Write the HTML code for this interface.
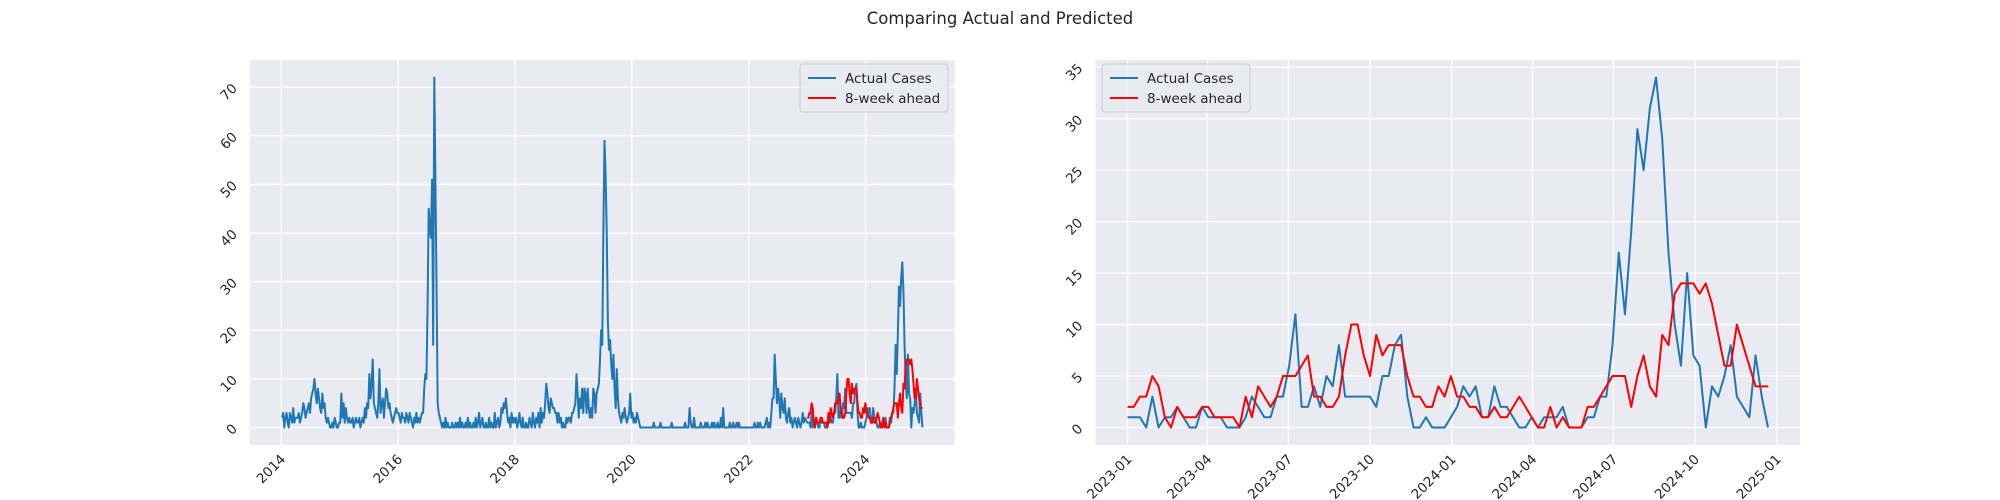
<!DOCTYPE html>
<html><head><meta charset="utf-8">
<style>
body{margin:0;background:#fff;}
svg{display:block;font-family:"DejaVu Sans","Liberation Sans",sans-serif;}
</style></head>
<body>
<svg id="fig" width="2000" height="500" viewBox="0 0 2000 500" xmlns="http://www.w3.org/2000/svg">
<text x="1000" y="24" text-anchor="middle" font-size="16.5" fill="#262626">Comparing Actual and Predicted</text>
</svg>
<script>
// ---- data ----
const historyStart = "2014-01-05";
const history2014 = [2,3,0,2,3,1,0,3,2,1,4,1,2,2,2,3,1,2,3,5,4,2,3,4,5,3,6,7,8,10,7,5,8,6,4,3,7,4,5,2,1,2,1,0,0,1,0,2,1,0,0,1];
const history2015 = [1,7,2,5,1,4,2,1,2,1,1,2,0,1,2,1,1,2,0,1,2,1,4,2,5,4,11,6,9,14,5,4,3,2,5,12,3,5,6,2,5,8,7,4,5,3,2,1,2,3,4,3];
const history2016 = [3,2,1,3,2,2,1,3,2,1,3,2,1,0,2,1,3,1,2,1,2,3,3,8,11,10,25,45,41,39,51,17,72,51,29,5,3,2,1,0,1,0,2,0,1,0,0,0,1,0,0,1];
const history2017 = [0,1,0,2,0,1,0,0,1,0,2,0,1,0,0,1,0,2,0,1,3,0,1,2,0,0,1,0,0,2,0,1,0,0,3,0,1,2,0,1,4,3,5,4,6,3,1,2,0,3,1,2];
const history2018 = [1,2,0,1,3,1,0,2,0,0,1,0,0,2,1,0,3,1,0,2,1,3,0,4,1,3,2,5,9,7,4,3,6,5,4,4,3,3,1,3,1,2,0,1,0,0,2,1,2,2,1,3];
const history2019 = [3,4,5,11,7,2,6,4,8,3,8,7,3,8,4,2,4,2,8,7,3,7,8,9,14,20,17,40,59,52,40,22,16,18,13,10,15,8,4,12,6,3,2,1,3,2,4,2,1,2,3,7];
const history2020 = [2,3,1,2,1,3,2,1,0,0,0,0,0,0,0,0,0,0,0,0,1,0,0,0,0,0,1,0,0,0,0,0,0,0,0,0,1,0,0,0,0,0,0,0,0,0,0,0,1,0,0,0];
const history2021 = [4,1,0,0,2,0,0,0,0,0,1,0,0,0,1,0,1,0,0,0,1,0,1,0,0,1,0,0,2,0,4,0,0,0,0,0,1,0,0,1,0,0,1,0,1,0,0,0,0,0,0,0];
const history2022 = [0,0,0,0,0,0,1,0,0,1,0,1,0,0,0,0,1,2,0,1,0,3,6,6,15,10,5,8,6,2,7,4,3,6,2,1,3,4,1,2,0,1,2,1,0,2,1,0,1,3,1,2];
const recentStart = "2023-01-01";
const actualRecent = [1,1,1,0,3,0,1,1,2,1, 0,0,2,1,1,1,0,0,0,1, 3,2,1,1,3,3,6,11,2,2, 4,2,5,4,8,3,3,3,3,3, 2,5,5,8,9,3,0,0,1,0, 0,0,1,2,4,3,4,1,1,4, 2,2,1,0,0,1,0,1,1,1, 2,0,0,0,1,1,3,3,8,17, 11,19,29,25,31,34,28,17,10,6, 15,7,6,0,4,3,5,8,3,2, 1,7,3,0];
const predicted8wk = [2,2,3,3,5,4,1,0,2,1, 1,1,2,2,1,1,1,1,0,3, 1,4,3,2,3,5,5,5,6,7, 3,3,2,2,3,7,10,10,7,5, 9,7,8,8,8,5,3,3,2,2, 4,3,5,3,3,2,2,1,1,2, 1,1,2,3,2,1,0,0,2,0, 1,0,0,0,2,2,3,4,5,5, 5,2,5,7,4,3,9,8,13,14, 14,14,13,14,12,9,6,6,10,8, 6,4,4,4];
const leftYTicks = [0,10,20,30,40,50,60,70];
const leftXTicks = ["2014","2016","2018","2020","2022","2024"];
const rightYTicks = [0,5,10,15,20,25,30,35];
const rightXTicks = ["2023-01","2023-04","2023-07","2023-10","2024-01","2024-04","2024-07","2024-10","2025-01"];

// ---- helpers ----
const NS="http://www.w3.org/2000/svg";
const svg=document.getElementById('fig');
function mk(tag,attrs,parent){const e=document.createElementNS(NS,tag);for(const k in attrs)e.setAttribute(k,attrs[k]);(parent||svg).appendChild(e);return e;}
const DAY=86400000;
function t(s){return Date.parse(s+"T00:00:00Z");}
function weekly(start,n){const s=t(start);const out=[];for(let i=0;i<n;i++)out.push(s+i*7*DAY);return out;}

const hist=[].concat(history2014,history2015,history2016,history2017,history2018,history2019,history2020,history2021,history2022);
const histDates=weekly(historyStart,hist.length);
const recDates=weekly(recentStart,actualRecent.length);
const predDates=weekly(recentStart,predicted8wk.length);
const allDates=histDates.concat(recDates);
const allActual=hist.concat(actualRecent);

function drawAxes(opt){
  const {name,x0,x1,y0,y1,xmin,xmax,ymin,ymax,yTicks,xTicks,xTickParse}=opt;
  const g=mk('g',{});
  
  
  const sx=v=>x0+(v-xmin)/(xmax-xmin)*(x1-x0);
  const sy=v=>y1-(v-ymin)/(ymax-ymin)*(y1-y0);
  const bg=mk('rect',{x:x0,y:y0,width:x1-x0,height:y1-y0,fill:'#eaeaf2'},g);
  
  
  yTicks.forEach(v=>{
    const y=sy(v);
    const gl=mk('line',{x1:x0,x2:x1,y1:y,y2:y,stroke:'#fff','stroke-width':1.3},g);
    
    
    const ax_=x0-12, ay_=y+2;
    const tx=mk('text',{x:ax_,y:ay_,'font-size':13.5,fill:'#262626','text-anchor':'end',transform:`rotate(-45 ${ax_} ${ay_})`},g);
    
    
    tx.textContent=v;
  });
  xTicks.forEach(s=>{
    const x=sx(xTickParse(s));
    const gl=mk('line',{x1:x,x2:x,y1:y0,y2:y1,stroke:'#fff','stroke-width':1.3},g);
    
    
    const ax_=x+5, ay_=y1+15;
    const tx=mk('text',{x:ax_,y:ay_,'font-size':13.5,fill:'#262626','text-anchor':'end',transform:`rotate(-45 ${ax_} ${ay_})`},g);
    
    
    tx.textContent=s;
  });
  return {g,sx,sy};
}
function drawLine(ax,dates,vals,color,name){
  const d=vals.map((v,i)=>(i?'L':'M')+ax.sx(dates[i]).toFixed(2)+','+ax.sy(v).toFixed(2)).join('');
  const p=mk('path',{d,fill:'none',stroke:color,'stroke-width':2,'stroke-linejoin':'round'},ax.g);
  
  
}
function drawLegend(ax,x,y,name){
  const g=mk('g',{},ax.g);
  
  
  mk('rect',{x,y,width:148,height:48,rx:3,fill:'#eaeaf2','fill-opacity':0.8,stroke:'#cccccc'},g);
  const items=[["Actual Cases","#1f77b4"],["8-week ahead","#ff0000"]];
  items.forEach((it,i)=>{
    const yy=y+14+i*20;
    const ln=mk('line',{x1:x+8,x2:x+36,y1:yy,y2:yy,stroke:it[1],'stroke-width':2},g);
    
    
    const tx=mk('text',{x:x+45,y:yy+5,'font-size':13.5,fill:'#262626'},g);
    
    
    tx.textContent=it[0];
  });
}
function lim(a,b){const m=(b-a)*0.05;return [a-m,b+m];}

// Left axes
{
  const [xmin,xmax]=lim(allDates[0],allDates[allDates.length-1]);
  const [ymin,ymax]=lim(0,Math.max(...allActual,...predicted8wk));
  const ax=drawAxes({name:'left-chart',x0:250,x1:954.5,y0:60,y1:445,xmin,xmax,ymin,ymax,yTicks:leftYTicks,xTicks:leftXTicks,xTickParse:s=>t(s+"-01-01")});
  drawLine(ax,allDates,allActual,'#1f77b4','actual-cases-line');
  drawLine(ax,predDates,predicted8wk,'#ff0000','predicted-line');
  drawLegend(ax,800,64,'left-legend');
}
// Right axes
{
  const [xmin,xmax]=lim(recDates[0],recDates[recDates.length-1]);
  const [ymin,ymax]=lim(0,Math.max(...actualRecent,...predicted8wk));
  const ax=drawAxes({name:'right-chart',x0:1095.5,x1:1800,y0:60,y1:445,xmin,xmax,ymin,ymax,yTicks:rightYTicks,xTicks:rightXTicks,xTickParse:s=>t(s+"-01")});
  drawLine(ax,recDates,actualRecent,'#1f77b4','actual-cases-line');
  drawLine(ax,predDates,predicted8wk,'#ff0000','predicted-line');
  drawLegend(ax,1102,64,'right-legend');
}
</script>
</body></html>
